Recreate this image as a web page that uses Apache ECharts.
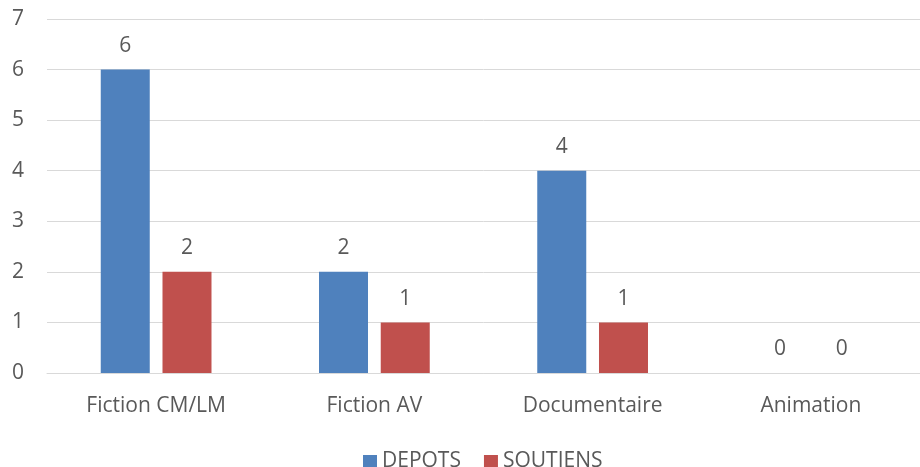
<!DOCTYPE html>
<html>
<head>
<meta charset="utf-8">
<script src="https://cdn.jsdelivr.net/npm/echarts@6/dist/echarts.min.js"></script>
<style>
  html, body { margin: 0; padding: 0; background: #fff; }
  #chart { width: 920px; height: 467px; }
</style>
</head>
<body>
<div id="chart"></div>
<script>
// donnees du graphique
const categories = ['Fiction CM/LM', 'Fiction AV', 'Documentaire', 'Animation'];
const depots = [6, 2, 4, 0];
const soutiens = [2, 1, 1, 0];
const yTicks = [0, 1, 2, 3, 4, 5, 6, 7];

const textColor = '#595959';
const font = 'Open Sans';
const fs = 21;

let myChart = echarts.init(document.getElementById('chart'));

let label = {
    show: true,
    position: 'top',
    distance: 13,
    color: textColor,
    fontFamily: font,
    fontSize: fs
};

let option = {
    backgroundColor: '#fff',
    animation: false,
    grid: {
        left: 47,
        right: 0,
        top: 19,
        bottom: 94
    },
    legend: {
        top: 446,
        left: 358,
        itemWidth: 14,
        itemHeight: 13,
        itemGap: 23,
        icon: 'rect',
        textStyle: {
            color: textColor,
            fontFamily: font,
            fontSize: fs,
            padding: [0, 0, 0, 0]
        },
        data: ['DEPOTS', 'SOUTIENS']
    },
    xAxis: {
        type: 'category',
        data: categories,
        axisTick: { show: false },
        axisLine: { show: true, lineStyle: { color: '#d9d9d9', width: 1 } },
        axisLabel: {
            color: textColor,
            fontFamily: font,
            fontSize: fs,
            margin: 23
        }
    },
    yAxis: {
        type: 'value',
        min: yTicks[0],
        max: yTicks[yTicks.length - 1],
        interval: 1,
        axisLine: { show: false },
        axisTick: { show: false },
        axisLabel: {
            color: textColor,
            fontFamily: font,
            fontSize: fs,
            margin: 23
        },
        splitLine: {
            lineStyle: { color: '#d9d9d9', width: 1 }
        }
    },
    series: [
        {
            name: 'DEPOTS',
            type: 'bar',
            data: depots,
            barWidth: 49,
            barGap: '26%',
            itemStyle: { color: '#4f81bd' },
            label: label
        },
        {
            name: 'SOUTIENS',
            type: 'bar',
            data: soutiens,
            barWidth: 49,
            barGap: '26%',
            itemStyle: { color: '#c0504d' },
            label: label
        }
    ]
};
myChart.setOption(option);
</script>
</body>
</html>
